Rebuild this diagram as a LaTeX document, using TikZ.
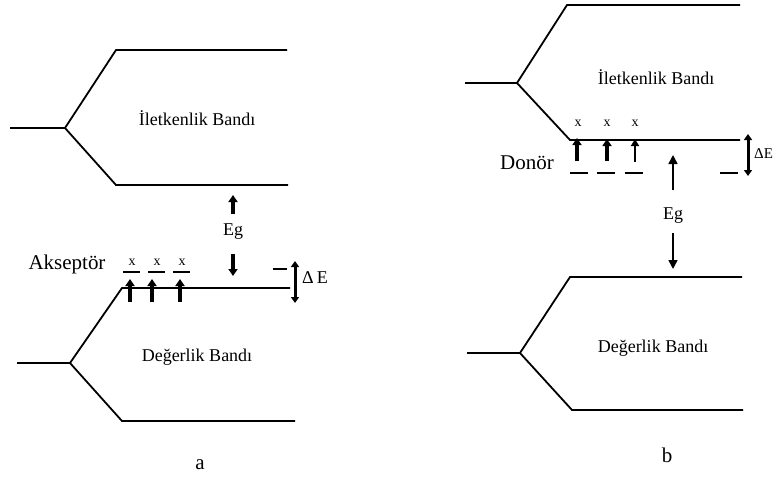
\documentclass[tikz,border=0pt]{standalone}
\usepackage{fontspec}
\setmainfont{Liberation Serif}
\usetikzlibrary{arrows.meta}
\begin{document}
\begin{tikzpicture}[x=1pt,y=-1pt,
  band/.style={line width=1.8pt, line join=miter},
  lvl/.style={line width=1.5pt},
  bandtxt/.style={font=\fontsize{18}{18}\selectfont, inner sep=0pt},
  bigtxt/.style={font=\fontsize{21}{21}\selectfont, inner sep=0pt},
  xtxt/.style={font=\fontsize{14}{14}\selectfont, inner sep=0pt},
  egtxt/.style={font=\fontsize{18}{18}\selectfont, inner sep=0pt},
  thickup/.style={line width=3.2pt, -{Triangle[length=7pt,width=9pt]}},
  thinup/.style={line width=1.8pt, -{Triangle[length=7pt,width=8pt]}},
  egarrow/.style={line width=1.6pt, -{Triangle[length=9pt,width=9pt]}},
  dbl/.style={line width=3pt, {Triangle[length=6pt,width=8pt]}-{Triangle[length=6pt,width=8pt]}}]
\useasboundingbox (0,0) rectangle (777,479);
\fill[white] (0,0) rectangle (777,479);

% ---------- (a) ----------
\coordinate (a1) at (10,128);
\coordinate (a2) at (65,128);
\coordinate (a3) at (116,50);
\coordinate (a4) at (287,50);
\coordinate (a5) at (116,185);
\coordinate (a6) at (288,185);
\draw[band] (a1) -- (a2) -- (a3) -- (a4);
\draw[band] (a2) -- (a5) -- (a6);

\coordinate (v1) at (17,363);
\coordinate (v2) at (70,363);
\coordinate (v3) at (122,288);
\coordinate (v4) at (290,288);
\coordinate (v5) at (122,421);
\coordinate (v6) at (295,421);
\draw[band] (v4) -- (v3) -- (v2) -- (v1);
\draw[band] (v2) -- (v5) -- (v6);

\node[bandtxt] (ila) at (197,118) {İletkenlik Bandı};
\node[bandtxt] (dba) at (197,357) {Değerlik Bandı};
\node[bigtxt] (akc) at (67,264) {Akseptör};
\node[bigtxt] (la) at (200,465) {a};

% acceptor levels
\foreach \i/\xa/\xb/\xm in {1/123/140/132,2/148/165/157,3/173/190/182}{
  \coordinate (ad\i l) at (\xa,272);
  \coordinate (ad\i r) at (\xb,272);
  \draw[lvl] (ad\i l) -- (ad\i r);
  \node[xtxt] (ax\i) at (\xm,262) {x};
}
\foreach \i/\xx in {1/130,2/152,3/180}{
  \coordinate (aa\i s) at (\xx,302);
  \coordinate (aa\i e) at (\xx,279);
  \draw[thickup] (aa\i s) -- (aa\i e);
}

% Eg (a)
\node[egtxt] (ega) at (233,232) {Eg};
\coordinate (eau1) at (233,214);
\coordinate (eau2) at (233,195);
\coordinate (ead1) at (233,254);
\coordinate (ead2) at (233,276);
\draw[thickup] (eau1) -- (eau2);
\draw[thickup] (ead1) -- (ead2);

% Delta E (a)
\coordinate (dea1) at (273,269);
\coordinate (dea2) at (287,269);
\draw[lvl] (dea1) -- (dea2);
\coordinate (deat) at (295,261);
\coordinate (deab) at (295,303);
\draw[dbl] (deat) -- (deab);
\node[egtxt, anchor=west] (dEa) at (302,278) {Δ\,E};

% ---------- (b) ----------
\coordinate (b1) at (465,83);
\coordinate (b2) at (517,83);
\coordinate (b3) at (567,5);
\coordinate (b4) at (740,5);
\coordinate (b5) at (570,140);
\coordinate (b6) at (740,140);
\draw[band] (b1) -- (b2) -- (b3) -- (b4);
\draw[band] (b2) -- (b5) -- (b6);

\coordinate (c1) at (467,353);
\coordinate (c2) at (520,353);
\coordinate (c3) at (570,277);
\coordinate (c4) at (742,277);
\coordinate (c5) at (572,410);
\coordinate (c6) at (743,410);
\draw[band] (c4) -- (c3) -- (c2) -- (c1);
\draw[band] (c2) -- (c5) -- (c6);

\node[bandtxt] (ilb) at (656,77) {İletkenlik Bandı};
\node[bandtxt] (dbb) at (653,348) {Değerlik Bandı};
\node[bigtxt] (don) at (527,163) {Donör};
\node[bigtxt] (lb) at (667,455) {b};

\foreach \i/\xm in {1/578,2/607,3/635}{
  \node[xtxt] (bx\i) at (\xm,123) {x};
}
\foreach \i/\xa/\xb in {1/570/588,2/597/615,3/625/643,4/720/738}{
  \coordinate (bd\i l) at (\xa,173);
  \coordinate (bd\i r) at (\xb,173);
  \draw[lvl] (bd\i l) -- (bd\i r);
}
\coordinate (ba1s) at (577,161);
\coordinate (ba1e) at (577,138);
\coordinate (ba2s) at (607,161);
\coordinate (ba2e) at (607,139);
\coordinate (ba3s) at (635,162);
\coordinate (ba3e) at (635,139);
\draw[thickup] (ba1s) -- (ba1e);
\draw[thickup] (ba2s) -- (ba2e);
\draw[thinup] (ba3s) -- (ba3e);

% Eg (b)
\node[egtxt] (egb) at (673,216) {Eg};
\coordinate (ebu1) at (673,190);
\coordinate (ebu2) at (673,155);
\coordinate (ebd1) at (673,233);
\coordinate (ebd2) at (673,269);
\draw[egarrow] (ebu1) -- (ebu2);
\draw[egarrow] (ebd1) -- (ebd2);

% Delta E (b)
\coordinate (debt) at (748,134);
\coordinate (debb) at (748,176);
\draw[dbl] (debt) -- (debb);
\node[font=\fontsize{15}{15}\selectfont, inner sep=0pt, anchor=west] (dEb) at (754,154) {ΔE};
\end{tikzpicture}
\end{document}
